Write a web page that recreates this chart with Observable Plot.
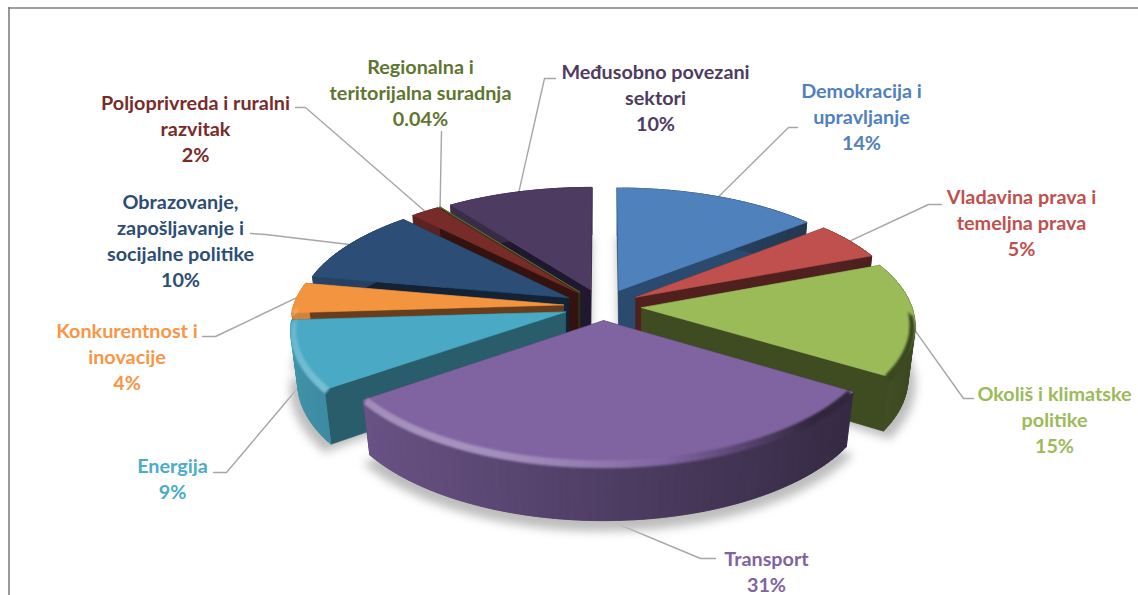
<!DOCTYPE html>
<html><head><meta charset="utf-8">
<script src="https://cdn.jsdelivr.net/npm/d3@7"></script>
<script src="https://cdn.jsdelivr.net/npm/@observablehq/plot@0.6"></script>
<style>html,body{margin:0;padding:0;background:#fff;overflow:hidden}svg{display:block}</style>
</head><body><div id="chart"></div>
<script>
// Data, clockwise from 12 o'clock
const categories = ["Demokracija i\nupravljanje","Vladavina prava i\ntemeljna prava","Okoliš i klimatske\npolitike","Transport","Energija","Konkurentnost i\ninovacije","Obrazovanje,\nzapošljavanje i\nsocijalne politike","Poljoprivreda i ruralni\nrazvitak","Regionalna i\nteritorijalna suradnja","Međusobno povezani\nsektori"];
const shares = [14,5,15,31,9,4,10,2,0.04,10];
const shareLabels = ["14%","5%","15%","31%","9%","4%","10%","2%","0.04%","10%"];
const topColors = ["#4f81bd","#c0504d","#9bbb59","#8064a2","#4aa9c4","#f39540","#2c4d75","#772c2a","#5f7530","#4d3b62"];
const cutColors = ["#2a4a70","#50201e","#3f4b21","#2f2641","#295d6c","#683d1d","#122337","#33120f","#2c3816","#201730"];
const labelColors = ["#4f81bd","#c0504d","#9bbb59","#8064a2","#4bacc6","#f79646","#2c4d75","#772c2a","#5f7530","#4d3b62"];

// Layout of the labels and leader lines
const labelX = [861,1021,1054,766,172,126.5,180,195,420,655];
const labelY = [115,221.5,418,570,477,355,239,127,91,96];
const leaderBends = [[[788,127],[797,127]],[[928,204],[941,204]],[[963,398],[973,398]],[[700,558],[715,558]],[[226,472],[213,472]],[[215,336],[202,336]],[[265,234],[250,233]],[[305,107],[295,107]],[[441,131],[441,131]],[[544,78],[555,78]]];
const leaderDepth = [0,0,0.1,1,0.55,0,0,0,0,0];
const paintOrder = [9,8,7,6,0,1,5,2,4,3];
const explodeOf = [0.145,0.145,0.145,0.12,0.145,0.145,0.145,0.145,0.145,0.145];

// Camera model for the tilted exploded disc
const cx=602, cy=305.5, R=270, B=120, px=0.13, py=0.133, thick=52, baseInset=0.975;
const project=(X,Y,H=0)=>{const wy=1-py*Y,wx=1-px*Y;return {x:cx+R*X/wx,y:cy+(B*Y+thick*H)/wy};};

const total=d3.sum(shares);
let acc=0;
const slices=shares.map((v,i)=>{const a0=acc/total*2*Math.PI;acc+=v;const a1=acc/total*2*Math.PI;const m=(a0+a1)/2;
  return {i,a0,a1,m,ex:explodeOf[i]*Math.sin(m),ey:-explodeOf[i]*Math.cos(m)};});
const onArc=(s,a,H=0,r=1)=>project(s.ex+r*Math.sin(a),s.ey-r*Math.cos(a),H);
const onBase=(s,a)=>onArc(s,a,1,baseInset);
const apex=(s,H=0)=>project(s.ex,s.ey,H);
const arcAngles=(s,n)=>d3.range(n+1).map(k=>s.a0+(s.a1-s.a0)*k/n);
const steps=s=>Math.max(2,Math.ceil((s.a1-s.a0)*40));

const poly=(id,fill,pts)=>[...pts,pts[0]].map(p=>({id,fill,x:p.x,y:p.y}));
const area=(rows,extra={})=>Plot.line(rows,{x:"x",y:"y",z:"id",fill:"fill",stroke:"fill",strokeWidth:0.6,curve:"linear",...extra});
const scaleHex=(c,f)=>{const q=d3.rgb(c);return d3.rgb(q.r*f,q.g*f,q.b*f).formatHex();};
const rimShade=t=>t<0?0.87+(t+1)*(0.62-0.87):0.62+t*(0.38-0.62);

function sliceSolid(s){
  const rows=[],c=topColors[s.i],cut=cutColors[s.i];
  const n=steps(s), as=arcAngles(s,n);
  rows.push(...poly(`c0${s.i}`,cut,[apex(s),onArc(s,s.a0),onBase(s,s.a0),apex(s,1)]));
  rows.push(...poly(`c1${s.i}`,cut,[apex(s),onArc(s,s.a1),onBase(s,s.a1),apex(s,1)]));
  // Each rim strip reaches over the next one, so no seams show between them
  for(let k=0;k<n;k++){
    const t=Math.sin((as[k]+as[k+1])/2), e=as[Math.min(n,k+2)];
    rows.push(...poly(`r${s.i}-${k}`,scaleHex(c,rimShade(t)),[onArc(s,as[k]),onArc(s,e),onBase(s,e),onBase(s,as[k])]));
  }
  return rows;
}
const sliceTop=s=>poly(`t${s.i}`,topColors[s.i],[apex(s),...arcAngles(s,steps(s)).map(a=>onArc(s,a))]);
function sliceBevel(s){
  const rows=[],c=topColors[s.i];
  const n=steps(s), as=arcAngles(s,n);
  for(let k=0;k<n;k++){
    const a=(as[k]+as[k+1])/2;
    if(-Math.cos(a)<0.05) continue;
    const t=Math.sin(a), e=as[Math.min(n,k+2)];
    const glow=t<0.2?0.3*Math.sin(Math.PI*Math.min(1,(0.2-t)/1.5)):0;
    const col=t<0.2?d3.interpolateRgb(c,"#ffffff")(glow):d3.interpolateRgb(c,scaleHex(c,0.38))(Math.min(1,(t-0.2)/0.5));
    rows.push(...poly(`b${s.i}-${k}`,col,[onArc(s,as[k],0,0.982),onArc(s,e,0,0.982),onArc(s,e,0.07,0.997),onArc(s,as[k],0.07,0.997)]));
  }
  return rows;
}
const shadowRows=slices.flatMap(s=>{const as=arcAngles(s,Math.max(2,Math.ceil((s.a1-s.a0)*20)));
  return poly(`s${s.i}`,"#bdbdbd",[apex(s,1),...as.map(a=>onArc(s,a,1.1))]);});
const leaderRows=slices.flatMap(s=>{const a=onArc(s,s.m,leaderDepth[s.i],leaderDepth[s.i]?0.985:1);
  return [a,...leaderBends[s.i].map(([x,y])=>({x,y}))].map(p=>({id:s.i,x:p.x,y:p.y}));});
const labels=categories.map((c,i)=>({text:c+"\n"+shareLabels[i],x:labelX[i],y:labelY[i],color:labelColors[i]}));

const marks=[
  Plot.ruleY([7.5],{x1:8,x2:1138,stroke:"#7f7f7f",strokeWidth:1.6}),
  Plot.ruleX([8.5],{y1:7,y2:595,stroke:"#7f7f7f",strokeWidth:1.6}),
  Plot.line(leaderRows,{x:"x",y:"y",z:"id",stroke:"#a6a6a6",strokeWidth:1.4,curve:"linear"}),
  area(shadowRows,{imageFilter:"blur(5px)"})
];
for(const i of paintOrder){
  const s=slices[i];
  marks.push(area(sliceSolid(s)));
  marks.push(area(sliceTop(s)));
  const b=sliceBevel(s);
  if(b.length) marks.push(area(b,{imageFilter:"blur(1.3px)"}));
}
marks.push(Plot.text(labels,{x:"x",y:"y",text:"text",fill:"color",textAnchor:"middle",lineAnchor:"middle",lineHeight:1.31,fontSize:19.8,fontWeight:700,fontFamily:"Lato"}));

const plot=Plot.plot({width:1138,height:595,margin:0,
  x:{domain:[0,1138],range:[0,1138],axis:null},
  y:{domain:[0,595],range:[0,595],axis:null},
  color:{type:"identity"},
  style:{background:"#fff"},
  marks});
document.getElementById("chart").append(plot);
</script></body></html>
